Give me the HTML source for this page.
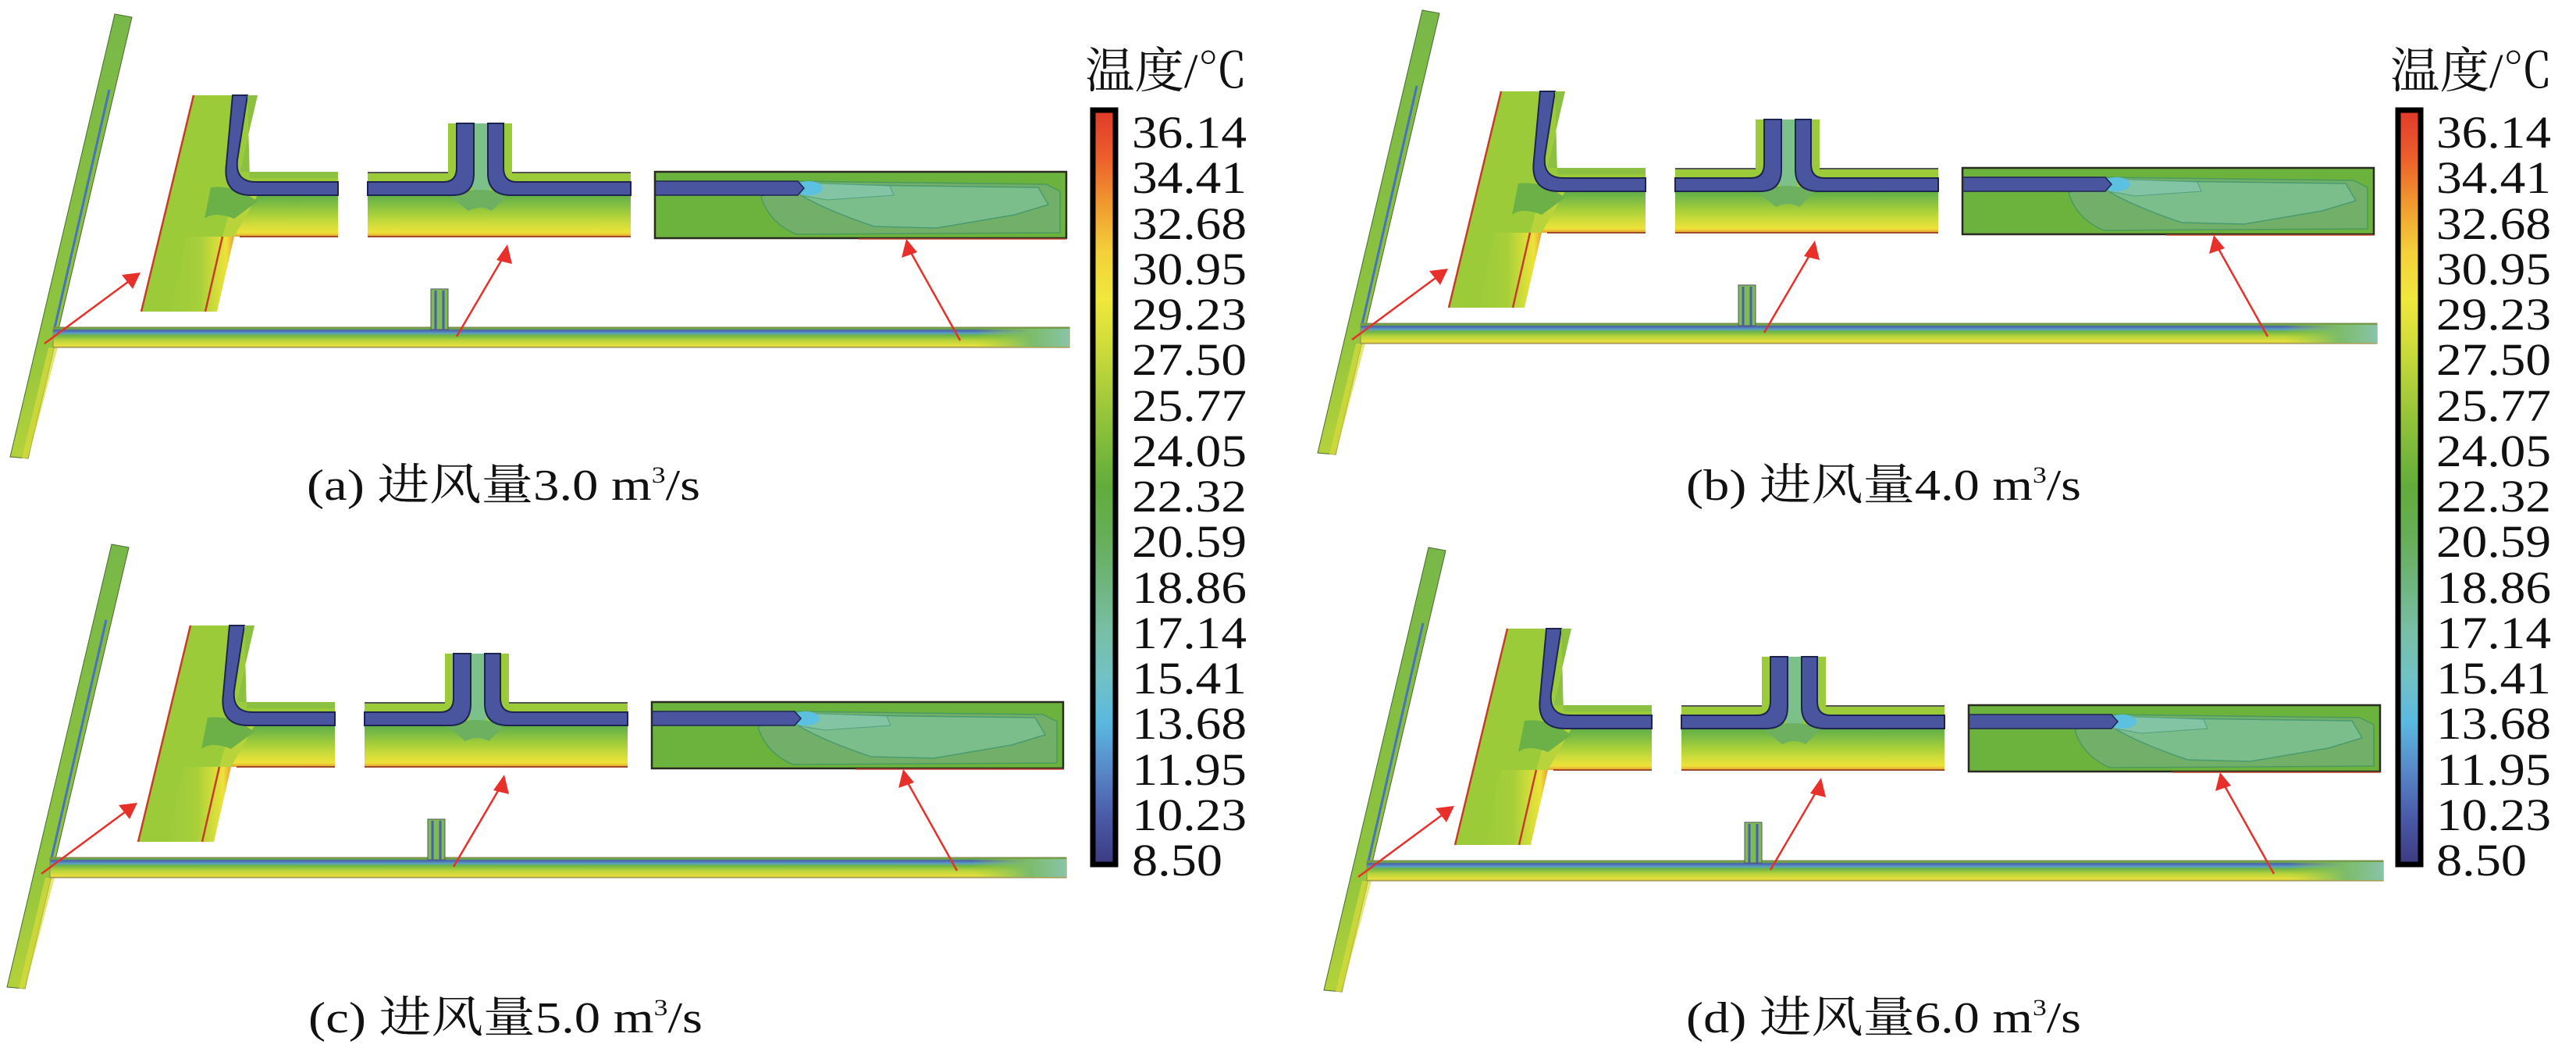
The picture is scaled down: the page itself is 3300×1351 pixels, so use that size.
<!DOCTYPE html>
<html><head><meta charset="utf-8"><style>
html,body{margin:0;padding:0;background:#fff;}
svg{display:block;}
text{font-family:"Liberation Serif","Noto Serif CJK SC",serif;fill:#111;}
</style></head><body>
<svg width="3300" height="1351" viewBox="0 0 3300 1351" xmlns="http://www.w3.org/2000/svg">
<defs>
<linearGradient id="cb" x1="0" y1="0" x2="0" y2="1">
<stop offset="0" stop-color="#e03a2a"/><stop offset="0.0625" stop-color="#ec5e2c"/>
<stop offset="0.125" stop-color="#f09a30"/><stop offset="0.1875" stop-color="#f3d03a"/>
<stop offset="0.25" stop-color="#f0e83c"/><stop offset="0.3125" stop-color="#cfdc3a"/>
<stop offset="0.375" stop-color="#a8cc3a"/><stop offset="0.4375" stop-color="#82bc3a"/>
<stop offset="0.5" stop-color="#62ac3c"/><stop offset="0.5625" stop-color="#66ae56"/>
<stop offset="0.625" stop-color="#6fb47c"/><stop offset="0.6875" stop-color="#78bea4"/>
<stop offset="0.75" stop-color="#72c2c4"/><stop offset="0.8125" stop-color="#5ab8e0"/>
<stop offset="0.875" stop-color="#5888c8"/><stop offset="0.9375" stop-color="#4a5aa8"/>
<stop offset="1" stop-color="#3c3a80"/>
</linearGradient>
<linearGradient id="hz" x1="0" y1="0" x2="0" y2="1">
<stop offset="0" stop-color="#5fae48"/><stop offset="0.2" stop-color="#7dbc44"/>
<stop offset="0.45" stop-color="#a6cf3a"/><stop offset="0.7" stop-color="#cfdc3a"/>
<stop offset="0.9" stop-color="#eee23a"/><stop offset="1" stop-color="#e8a030"/>
</linearGradient>
<linearGradient id="vs" x1="0" y1="0" x2="1" y2="0">
<stop offset="0" stop-color="#9ccb3a"/><stop offset="0.45" stop-color="#a6cf3a"/>
<stop offset="0.7" stop-color="#cfdc3a"/><stop offset="0.88" stop-color="#eee23a"/>
<stop offset="1" stop-color="#e8a030"/>
</linearGradient>
<linearGradient id="duct" x1="0" y1="0" x2="0" y2="1">
<stop offset="0" stop-color="#6a8c3a"/><stop offset="0.08" stop-color="#6cb048"/>
<stop offset="0.15" stop-color="#4a5eb0"/><stop offset="0.3" stop-color="#5aa0c0"/>
<stop offset="0.4" stop-color="#6cb448"/><stop offset="0.65" stop-color="#b8d43a"/>
<stop offset="0.92" stop-color="#e8e03e"/><stop offset="1" stop-color="#b89a40"/>
</linearGradient>
<linearGradient id="ductEnd" x1="0" y1="0" x2="1" y2="0">
<stop offset="0" stop-color="#9ccb3a" stop-opacity="0"/><stop offset="0.6" stop-color="#7cbc6a"/>
<stop offset="1" stop-color="#88c4a8"/>
</linearGradient>
<linearGradient id="slant" x1="0" y1="0" x2="0" y2="1">
<stop offset="0" stop-color="#78b848"/><stop offset="0.7" stop-color="#8ec43e"/>
<stop offset="1" stop-color="#b4d23a"/>
</linearGradient>

<g id="panel">
  <polygon points="147,18 169,22 36,587 13,585" fill="url(#slant)" stroke="#4a6a30" stroke-width="1"/>
  <line x1="140" y1="115" x2="70" y2="420" stroke="#4a70c0" stroke-width="3"/>
  <polygon points="62,445 74,445 36,587 28,587" fill="#d8dc3a" opacity="0.7"/>
  <rect x="68" y="419" width="1302" height="26" fill="url(#duct)" stroke="#8a8a50" stroke-width="1"/>
  <rect x="1250" y="421" width="120" height="23" fill="url(#ductEnd)"/>
  <rect x="552" y="370" width="22" height="52" fill="#7cbc52" stroke="#556" stroke-width="1"/>
  <line x1="558" y1="372" x2="558" y2="422" stroke="#4a5eb0" stroke-width="3"/>
  <line x1="568" y1="372" x2="568" y2="422" stroke="#4a5eb0" stroke-width="3"/>

  <!-- inset 1 -->
  <polygon points="248,122 330,122 307,220 433,220 433,303 285,303 263,399 181,399" fill="#9ccb3a"/>
  <rect x="300" y="250" width="133" height="53" fill="url(#hz)"/>
  <polygon points="300,250 330,250 300,303 285,303" fill="#b8d43a"/>
  <polygon points="240,303 300,303 278,399 218,399" fill="url(#vs)"/>
  <path d="M270,240 Q300,236 330,258 L300,280 Q275,270 262,280 Z" fill="#6cb048"/>
  <path d="M298,122 L317,122 L304,205 Q301,233 328,233 L433,233 L433,250 L322,250 Q285,250 290,210 Z" fill="#4a55a0" stroke="#1e2450" stroke-width="2"/>
  <polygon points="317,122 330,122 307,220 433,220 433,228 320,228 Q310,226 312,205 Z" fill="#8cc040"/>
  <line x1="248" y1="122" x2="181" y2="399" stroke="#c83a2a" stroke-width="2.5"/>
  <line x1="285" y1="303" x2="263" y2="399" stroke="#c83a2a" stroke-width="2.5"/>
  <line x1="307" y1="303" x2="433" y2="303" stroke="#a04a2a" stroke-width="2"/>

  <!-- inset 2 -->
  <polygon points="471,220 574,220 574,158 656,158 656,220 808,220 808,303 471,303" fill="#9ccb3a"/>
  <rect x="471" y="250" width="337" height="53" fill="url(#hz)"/>
  <rect x="605" y="158" width="22" height="100" fill="#7cc08a"/>
  <path d="M575,250 Q616,236 650,250 L630,270 Q616,262 600,270 Z" fill="#6cb060"/>
  <path d="M471,233 L568,233 Q585,233 585,215 L585,158 L607,158 L607,222 Q607,250 580,250 L471,250 Z" fill="#4a55a0" stroke="#1e2450" stroke-width="2"/>
  <path d="M645,158 L645,215 Q645,233 662,233 L808,233 L808,250 L655,250 Q625,250 625,222 L625,158 Z" fill="#4a55a0" stroke="#1e2450" stroke-width="2"/>
  <line x1="471" y1="303" x2="808" y2="303" stroke="#a04a2a" stroke-width="2"/>
  <line x1="471" y1="221" x2="574" y2="221" stroke="#555" stroke-width="2"/>
  <line x1="656" y1="221" x2="808" y2="221" stroke="#555" stroke-width="2"/>

  <!-- inset 3 -->
  <rect x="839" y="220" width="527" height="85" fill="#6cb33e"/>
  <path d="M1018,232 L1340,236 L1358,245 L1358,298 L1020,300 Q985,285 975,252 Z" fill="#72b06a" stroke="#4a9a60" stroke-width="1.5"/>
  <path d="M1026,236 L1330,240 L1343,262 L1300,275 L1200,292 L1120,290 Q1060,270 1026,250 Z" fill="#7cbd8c" stroke="#4a9a70" stroke-width="1.5"/>
  <path d="M1026,234 L1140,238 L1145,250 L1060,256 L1026,250 Z" fill="#82c4a4" stroke="#50a080" stroke-width="1"/>
  <ellipse cx="1036" cy="241" rx="18" ry="9" fill="#5cc0e0"/>
  <path d="M839,232 L1022,232 L1030,241 L1022,250 L839,250 Z" fill="#4a55a0" stroke="#1e2450" stroke-width="1.5"/>
  <rect x="839" y="220" width="527" height="85" fill="none" stroke="#2a2a20" stroke-width="2.5"/>
  <line x1="1100" y1="306" x2="1366" y2="306" stroke="#c04a30" stroke-width="1.5"/>

  <g stroke="#e8302a" stroke-width="2.5" fill="#e8302a">
    <line x1="57" y1="440" x2="168" y2="358"/>
    <polygon points="180,349 156,352 170,370" stroke="none"/>
    <line x1="585" y1="431" x2="646" y2="327"/>
    <polygon points="650,313 636,333 656,338" stroke="none"/>
    <line x1="1230" y1="436" x2="1165" y2="320"/>
    <polygon points="1161,306 1155,330 1175,323" stroke="none"/>
  </g>
</g>

<g id="cbar">
  <rect x="1400" y="141" width="29" height="966" fill="url(#cb)" stroke="#000" stroke-width="7"/>
</g>
</defs>

<use href="#panel"/>
<use href="#panel" transform="translate(-4,679)"/>
<use href="#panel" transform="translate(1675,-5)"/>
<use href="#panel" transform="translate(1683,683)"/>

<use href="#cbar"/>
<use href="#cbar" transform="translate(1672,0)"/>

<text x="1390" y="112" font-size="62" textLength="208" lengthAdjust="spacingAndGlyphs">温度/℃</text>
<text x="3062" y="112" font-size="62" textLength="208" lengthAdjust="spacingAndGlyphs">温度/℃</text>

<g font-size="58">
<text x="1450" y="189" textLength="147" lengthAdjust="spacingAndGlyphs">36.14</text>
<text x="1450" y="247" textLength="147" lengthAdjust="spacingAndGlyphs">34.41</text>
<text x="1450" y="306" textLength="147" lengthAdjust="spacingAndGlyphs">32.68</text>
<text x="1450" y="364" textLength="147" lengthAdjust="spacingAndGlyphs">30.95</text>
<text x="1450" y="422" textLength="147" lengthAdjust="spacingAndGlyphs">29.23</text>
<text x="1450" y="480" textLength="147" lengthAdjust="spacingAndGlyphs">27.50</text>
<text x="1450" y="539" textLength="147" lengthAdjust="spacingAndGlyphs">25.77</text>
<text x="1450" y="597" textLength="147" lengthAdjust="spacingAndGlyphs">24.05</text>
<text x="1450" y="655" textLength="147" lengthAdjust="spacingAndGlyphs">22.32</text>
<text x="1450" y="713" textLength="147" lengthAdjust="spacingAndGlyphs">20.59</text>
<text x="1450" y="772" textLength="147" lengthAdjust="spacingAndGlyphs">18.86</text>
<text x="1450" y="830" textLength="147" lengthAdjust="spacingAndGlyphs">17.14</text>
<text x="1450" y="888" textLength="147" lengthAdjust="spacingAndGlyphs">15.41</text>
<text x="1450" y="946" textLength="147" lengthAdjust="spacingAndGlyphs">13.68</text>
<text x="1450" y="1005" textLength="147" lengthAdjust="spacingAndGlyphs">11.95</text>
<text x="1450" y="1063" textLength="147" lengthAdjust="spacingAndGlyphs">10.23</text>
<text x="1450" y="1121" textLength="116" lengthAdjust="spacingAndGlyphs">8.50</text>
</g>
<g font-size="58">
<text x="3121" y="189" textLength="147" lengthAdjust="spacingAndGlyphs">36.14</text>
<text x="3121" y="247" textLength="147" lengthAdjust="spacingAndGlyphs">34.41</text>
<text x="3121" y="306" textLength="147" lengthAdjust="spacingAndGlyphs">32.68</text>
<text x="3121" y="364" textLength="147" lengthAdjust="spacingAndGlyphs">30.95</text>
<text x="3121" y="422" textLength="147" lengthAdjust="spacingAndGlyphs">29.23</text>
<text x="3121" y="480" textLength="147" lengthAdjust="spacingAndGlyphs">27.50</text>
<text x="3121" y="539" textLength="147" lengthAdjust="spacingAndGlyphs">25.77</text>
<text x="3121" y="597" textLength="147" lengthAdjust="spacingAndGlyphs">24.05</text>
<text x="3121" y="655" textLength="147" lengthAdjust="spacingAndGlyphs">22.32</text>
<text x="3121" y="713" textLength="147" lengthAdjust="spacingAndGlyphs">20.59</text>
<text x="3121" y="772" textLength="147" lengthAdjust="spacingAndGlyphs">18.86</text>
<text x="3121" y="830" textLength="147" lengthAdjust="spacingAndGlyphs">17.14</text>
<text x="3121" y="888" textLength="147" lengthAdjust="spacingAndGlyphs">15.41</text>
<text x="3121" y="946" textLength="147" lengthAdjust="spacingAndGlyphs">13.68</text>
<text x="3121" y="1005" textLength="147" lengthAdjust="spacingAndGlyphs">11.95</text>
<text x="3121" y="1063" textLength="147" lengthAdjust="spacingAndGlyphs">10.23</text>
<text x="3121" y="1121" textLength="116" lengthAdjust="spacingAndGlyphs">8.50</text>
</g>

<g font-size="56">
<text x="393" y="640" textLength="504" lengthAdjust="spacingAndGlyphs">(a) 进风量3.0 m<tspan font-size="30" dy="-22">3</tspan><tspan dy="22">/s</tspan></text>
<text x="2160" y="640" textLength="506" lengthAdjust="spacingAndGlyphs">(b) 进风量4.0 m<tspan font-size="30" dy="-22">3</tspan><tspan dy="22">/s</tspan></text>
<text x="395" y="1322" textLength="505" lengthAdjust="spacingAndGlyphs">(c) 进风量5.0 m<tspan font-size="30" dy="-22">3</tspan><tspan dy="22">/s</tspan></text>
<text x="2160" y="1322" textLength="506" lengthAdjust="spacingAndGlyphs">(d) 进风量6.0 m<tspan font-size="30" dy="-22">3</tspan><tspan dy="22">/s</tspan></text>
</g>
</svg>
</body></html>
